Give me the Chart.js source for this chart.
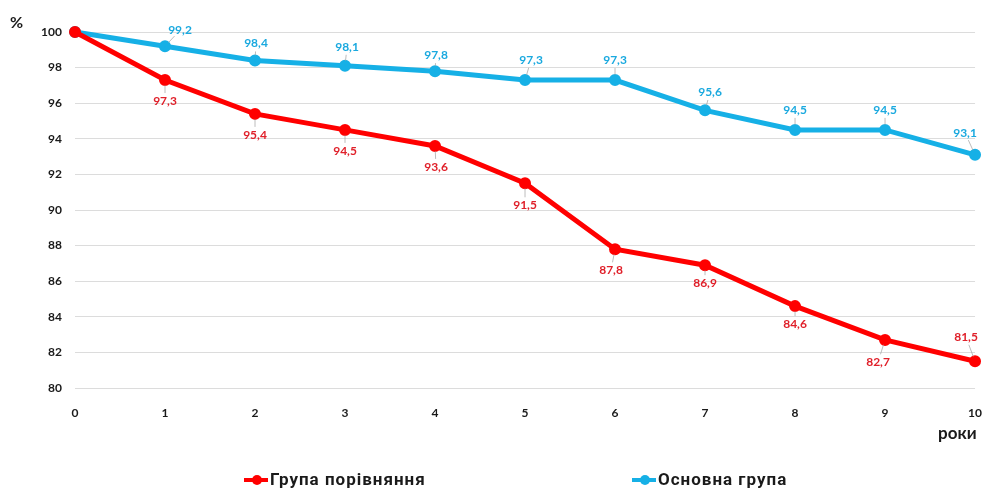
<!DOCTYPE html>
<html>
<head>
<meta charset="utf-8">
<script src="https://cdn.jsdelivr.net/npm/chart.js@4/dist/chart.umd.min.js"></script>
<style>
  body { margin: 0; background: #fff; }
  #wrap { position: relative; width: 992px; height: 490px; }
  #chart { position: absolute; left: 0; top: 0; }
  .lbl { position: absolute; font-family: Lato, "Open Sans", sans-serif; font-weight: bold; color: #1a1a1a; }
  .leg { position: absolute; top: 469px; font-family: Roboto, "Open Sans", sans-serif; font-weight: bold; font-size: 17px; letter-spacing: 1px; color: #1a1a1a; white-space: nowrap; }
  .leg i { display: inline-block; position: relative; width: 24px; height: 4px; vertical-align: middle; margin-right: 2px; top: -1px; }
  .leg i b { position: absolute; left: 8px; top: -3px; width: 10px; height: 10px; border-radius: 5px; }
</style>
</head>
<body>
<div id="wrap">
  <canvas id="chart" width="992" height="490"></canvas>
  <div class="lbl" style="left:10px;top:12px;font-size:16px;">%</div>
  <div class="lbl" style="left:938px;top:422px;font-size:17px;">роки</div>
  <div class="leg" style="left:244px;"><i style="background:#ff0000"><b style="background:#ff0000"></b></i>Група порівняння</div>
  <div class="leg" style="left:632px;"><i style="background:#16b0e6"><b style="background:#16b0e6"></b></i>Основна група</div>
</div>
<script>
const years = [0, 1, 2, 3, 4, 5, 6, 7, 8, 9, 10];
const porivnyannya = [100, 97.3, 95.4, 94.5, 93.6, 91.5, 87.8, 86.9, 84.6, 82.7, 81.5];
const osnovna = [100, 99.2, 98.4, 98.1, 97.8, 97.3, 97.3, 95.6, 94.5, 94.5, 93.1];
const yTicks = [80, 82, 84, 86, 88, 90, 92, 94, 96, 98, 100];

// label offsets from point (px), null = no label
const redOffsets = [null, [0, 21], [0, 21], [0, 21], [1, 21], [0, 22], [-4, 21], [0, 18], [0, 18], [-7, 22], [-9, -24]];
const blueOffsets = [null, [15, -16], [1, -17], [2, -19], [1, -16], [6, -20], [0, -20], [5, -18], [0, -20], [0, -20], [-10, -22]];

const labelPlugin = {
  id: 'valueLabels',
  afterDatasetsDraw(chart) {
    const ctx = chart.ctx;
    const sets = [
      { idx: 0, vals: porivnyannya, offs: redOffsets, color: '#e0202a' },
      { idx: 1, vals: osnovna, offs: blueOffsets, color: '#1aa9df' }
    ];
    ctx.save();
    ctx.font = 'bold 12px Lato, "Open Sans", sans-serif';
    ctx.textAlign = 'center';
    ctx.textBaseline = 'middle';
    sets.forEach(s => {
      const meta = chart.getDatasetMeta(s.idx);
      meta.data.forEach((pt, i) => {
        const o = s.offs[i];
        if (!o) return;
        const lx = pt.x + o[0], ly = pt.y + o[1];
        // leader line
        ctx.strokeStyle = 'rgba(160,160,160,0.7)';
        ctx.lineWidth = 1;
        ctx.beginPath();
        const len = Math.hypot(o[0], o[1]);
        const f1 = 5 / len, f2 = (len - 8) / len;
        ctx.moveTo(pt.x + o[0] * f1, pt.y + o[1] * f1);
        ctx.lineTo(pt.x + o[0] * f2, pt.y + o[1] * f2);
        ctx.stroke();
        ctx.fillStyle = s.color;
        ctx.fillText(String(s.vals[i]).replace('.', ','), lx, ly);
      });
    });
    ctx.restore();
  }
};

const data = {
  datasets: [
    {
      label: 'Група порівняння',
      data: porivnyannya.map((v, i) => ({ x: years[i], y: v })),
      borderColor: '#ff0000',
      backgroundColor: '#ff0000',
      borderWidth: 5,
      pointRadius: 3.5,
      pointHoverRadius: 3.5,
      tension: 0,
      clip: false
    },
    {
      label: 'Основна група',
      data: osnovna.map((v, i) => ({ x: years[i], y: v })),
      borderColor: '#16b0e6',
      backgroundColor: '#16b0e6',
      borderWidth: 5,
      pointRadius: 3.5,
      pointHoverRadius: 3.5,
      tension: 0,
      clip: false
    }
  ]
};

new Chart(document.getElementById('chart'), {
  type: 'line',
  data: data,
  options: {
    responsive: false,
    animation: false,
    layout: { padding: { left: 0, right: 15, top: 32, bottom: 0 } },
    plugins: { legend: { display: false }, tooltip: { enabled: false } },
    scales: {
      x: {
        type: 'linear',
        min: 0,
        max: 10,
        grid: { display: false },
        border: { display: false },
        afterFit: s => { s.height = 102; },
        ticks: {
          stepSize: 1,
          padding: 10,
          color: '#1a1a1a',
          font: { family: 'Lato, "Open Sans", sans-serif', weight: 'bold', size: 12 }
        }
      },
      y: {
        min: 80,
        max: 100,
        afterFit: s => { s.width = 75; },
        afterBuildTicks: s => { s.ticks = yTicks.map(v => ({ value: v })); },
        grid: { color: '#dcdcdc', lineWidth: 1, drawTicks: false },
        border: { display: false },
        ticks: {
          padding: 13,
          color: '#1a1a1a',
          font: { family: 'Lato, "Open Sans", sans-serif', weight: 'bold', size: 12 }
        }
      }
    }
  },
  plugins: [labelPlugin]
});
</script>
</body>
</html>
